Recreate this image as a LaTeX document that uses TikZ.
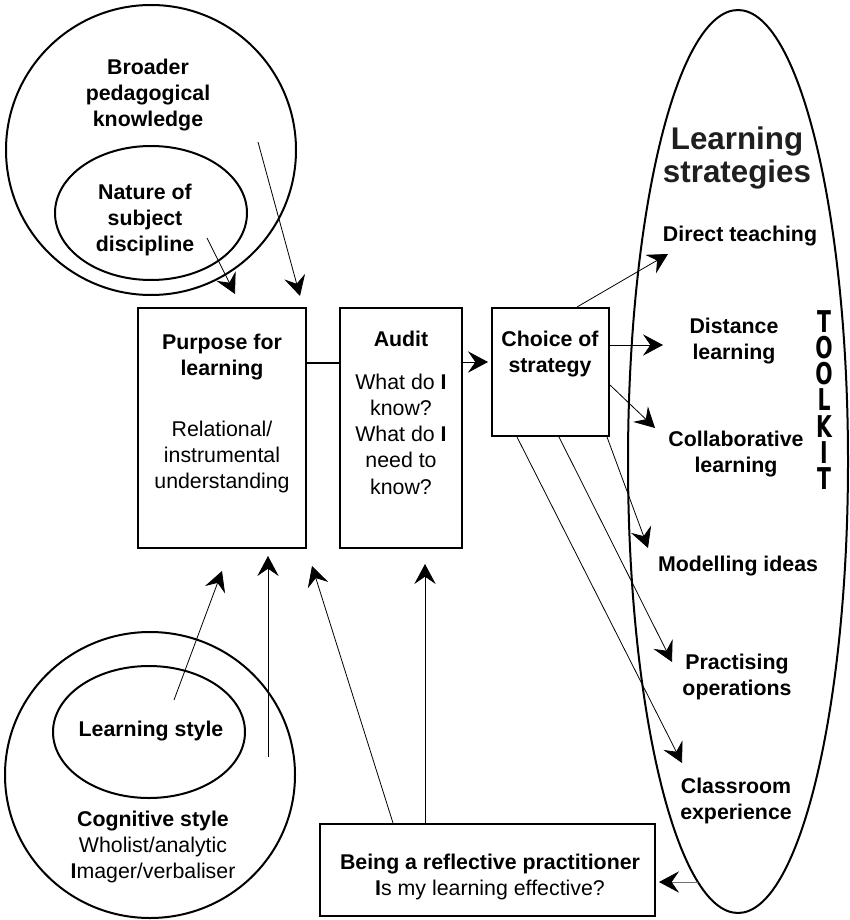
\documentclass[tikz,border=0pt]{standalone}
\usepackage{fontspec}
\setmainfont{Liberation Sans}
\newfontfamily\tkfont{DejaVu Sans}[FakeStretch=0.68]
\usetikzlibrary{arrows.meta,shapes.geometric}

\tikzset{
  bubble/.style={draw, ellipse, line width=1.5pt, inner sep=0pt},
  panel/.style={draw, rectangle, line width=1.5pt, inner sep=0pt},
  lbl/.style={align=center, inner sep=0pt, font=\fontsize{16}{19.7}\selectfont},
  lblb/.style={lbl, font=\fontsize{16}{19.7}\selectfont\bfseries},
  tooltxt/.style={align=center, inner sep=0pt, font=\fontsize{22.5}{19.7}\selectfont\tkfont\bfseries},
  headtip/.tip={Stealth[length=15pt, width=16pt, inset=5.5pt]},
  conn/.style={line width=0.6pt, -headtip},
  link/.style={line width=1.5pt}
}

\begin{document}
\begin{tikzpicture}[x=0.75pt, y=-0.75pt]
\useasboundingbox (0,0) rectangle (849,920);

% knowledge bubbles (top left)
\node[bubble, minimum width=217.5pt, minimum height=217.5pt] (bpk) at (151,150) {};
\node[bubble, minimum width=144pt, minimum height=100.5pt] (nsd) at (151,213) {};
\node[lblb] (tBroader) at (148,95) {Broader\\pedagogical\\knowledge};
\node[lblb] (tNature) at (145,220) {Nature of\\subject\\discipline};

% style bubbles (bottom left)
\node[bubble, minimum width=217.5pt, minimum height=214.5pt] (cog) at (150,775) {};
\node[bubble, minimum width=144pt, minimum height=99pt] (lst) at (149,732) {};
\node[lblb] (tLstyle) at (151,731) {Learning style};
\node[lbl] (tCog) at (153,847) {\textbf{Cognitive style}\\Wholist/analytic\\\textbf{I}mager/verbaliser};

% planning boxes
\node[panel, minimum width=126pt, minimum height=180pt] (purpose) at (222,428) {};
\node[lblb] (tPurpose) at (222,357) {Purpose for\\learning};
\node[lbl] (tRel) at (222,457) {Relational/\\instrumental\\understanding};

\node[panel, minimum width=91.5pt, minimum height=180pt] (audit) at (401,428) {};
\node[lblb] (tAudit) at (401,339) {Audit};
\node[lbl] (tKnow) at (401,434) {What do \textbf{I}\\know?\\What do \textbf{I}\\need to\\know?};

\node[panel, minimum width=87.75pt, minimum height=96pt] (choice) at (550.5,372) {};
\node[lblb] (tChoice) at (550,354) {Choice of\\strategy};

\node[panel, minimum width=251.25pt, minimum height=69pt] (reflect) at (487.5,870) {};
\node[lbl] (tReflect) at (490,877) {\textbf{Being a reflective practitioner}\\\textbf{I}s my learning effective?};

% strategies ellipse and its contents
\node[bubble, minimum width=165pt, minimum height=677.25pt] (strat) at (738,461.5) {};
\node[align=center, inner sep=0pt, text=black!88, font=\fontsize{23.5}{24.5}\selectfont\bfseries] (tStrat) at (737,158) {Learning\\strategies};
\node[lblb] (sDirect) at (740,236) {Direct teaching};
\node[lblb] (sDistance) at (734,341) {Distance\\learning};
\node[lblb] (sCollab) at (736,454) {Collaborative\\learning};
\node[lblb] (sModel) at (738,566) {Modelling ideas};
\node[lblb] (sPractise) at (737,677) {Practising\\operations};
\node[lblb] (sClass) at (736,801) {Classroom\\experience};

% TOOLKIT, one letter under the other
\node[tooltxt] (toolkit) at (824,400) {T\\O\\O\\L\\K\\I\\T};

% free ends of the connectors
\coordinate (eNat) at (235,294);
\coordinate (eBpk) at (300,296);
\coordinate (eCh) at (488,362);
\coordinate (eDir) at (668,254);
\coordinate (eDist) at (663,345);
\coordinate (eCol) at (655,428);
\coordinate (eMod) at (648,548);
\coordinate (ePra) at (672,662);
\coordinate (eCla) at (682,763);
\coordinate (sBot) at (698,882);
\coordinate (eRef) at (659,882);
\coordinate (eP1) at (312,566);
\coordinate (eA1) at (425,564);
\coordinate (eP2) at (268,556);
\coordinate (eP3) at (222,571);
\coordinate (sCog) at (268,757);
\coordinate (sLst) at (174,700);
\coordinate (sNat) at (207,238);
\coordinate (sBpk) at (258,142);

% connectors into the purpose box
\draw[conn] (sNat) -- (eNat);
\draw[conn] (sBpk) -- (eBpk);
\draw[conn] (sLst) -- (eP3);
\draw[conn] (sCog) -- (eP2);
\draw[conn] (393,0 |- reflect.north) -- (eP1);
\draw[conn] (425,0 |- reflect.north) -- (eA1);

% chain of boxes
\draw[link] (purpose.east |- 0,363) -- (audit.west |- 0,363);
\draw[conn] (audit.east |- 0,362) -- (eCh);

% from the choice of strategy to each strategy
\draw[conn] (577,0 |- choice.north) -- (eDir);
\draw[conn] (choice.east |- 0,345) -- (eDist);
\draw[conn] (choice.east |- 0,385) -- (eCol);
\draw[conn] (607,0 |- choice.south) -- (eMod);
\draw[conn] (559,0 |- choice.south) -- (ePra);
\draw[conn] (517,0 |- choice.south) -- (eCla);

% back to reflection
\draw[line width=0.6pt, draw=black!55, -{Stealth[length=15pt, width=16pt, inset=5.5pt, color=black]}] (sBot) -- (eRef);
\end{tikzpicture}
\end{document}
